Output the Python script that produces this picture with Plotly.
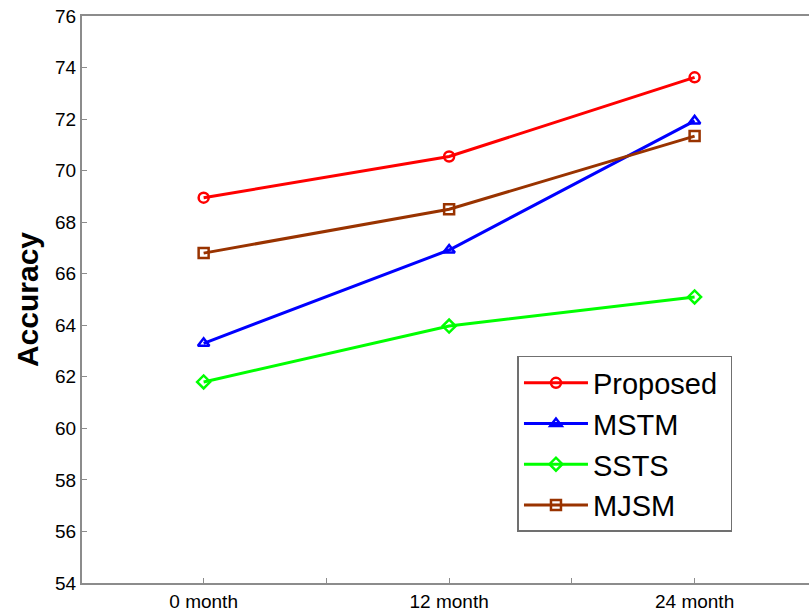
import plotly.graph_objects as go

categories = ["0 month", "12 month", "24 month"]
x_pos = [0, 1, 2]
proposed = [68.95, 70.55, 73.62]
mstm = [63.3, 66.92, 71.93]
ssts = [61.8, 63.97, 65.1]
mjsm = [66.8, 68.5, 71.34]

series = [
    ("Proposed", proposed, "#FF0000", "circle-open"),
    ("MSTM", mstm, "#0000FF", "triangle-up-open"),
    ("SSTS", ssts, "#00FF00", "diamond-open"),
    ("MJSM", mjsm, "#993300", "square-open"),
]

fig = go.Figure()
for i, (name, vals, col, sym) in enumerate(series):
    fig.add_trace(go.Scatter(
        x=x_pos, y=vals, name=name + "\u00a0", mode="lines+markers",
        line=dict(color=col, width=3),
        marker=dict(symbol=sym, size=10, color=col, line=dict(width=2.5, color=col)),
        legendgroup=name,
    ))

axis_col = "#8c8c8c"
fig.update_layout(
    width=809, height=614,
    margin=dict(l=82, r=0, t=16, b=31),
    plot_bgcolor="white", paper_bgcolor="white",
    font=dict(family="Liberation Sans, Arial, sans-serif", color="black", size=19),
    showlegend=True,
    legend=dict(
        x=0.599, y=0.4004, xanchor="left", yanchor="top",
        bordercolor="#707070", borderwidth=1.5, bgcolor="white",
        font=dict(size=29, family="Liberation Sans, Arial, sans-serif"),
        tracegroupgap=0, itemwidth=64,
    ),
    xaxis=dict(
        range=[-0.4955, 2.466], tickmode="array",
        tickvals=[0, 0.5, 1, 1.5, 2], ticktext=[categories[0], "", categories[1], "", categories[2]],
        ticks="inside", ticklen=5, tickcolor=axis_col, showgrid=False, zeroline=False,
        showline=True, linecolor=axis_col, linewidth=2, mirror=True,
        tickfont=dict(size=19), automargin=False,
    ),
    yaxis=dict(
        range=[54, 76], dtick=2, ticks="inside", ticklen=5, tickcolor=axis_col,
        showgrid=False, zeroline=False, showline=True, linecolor=axis_col, linewidth=2,
        tickfont=dict(size=19), automargin=False,
        title=dict(text="<b>Accuracy</b>", font=dict(size=30), standoff=8),
    ),
)

fig.write_html(
    "out.html",
    config={"displayModeBar": False},
    post_script="document.body.style.margin='0';document.documentElement.style.overflow='hidden';",
)
